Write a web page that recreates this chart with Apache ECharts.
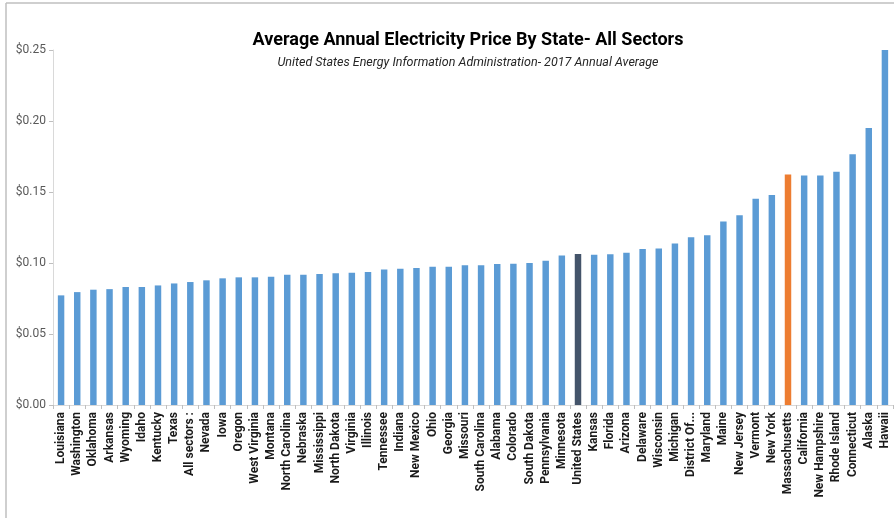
<!DOCTYPE html>
<html>
<head>
<meta charset="utf-8">
<script src="https://cdn.jsdelivr.net/npm/echarts@6/dist/echarts.min.js"></script>
<style>
  html, body { margin: 0; padding: 0; background: #ffffff; }
  #chart { width: 894px; height: 518px; }
</style>
</head>
<body>
<div id="chart"></div>
<script>
const categories = [
  "Louisiana", "Washington", "Oklahoma", "Arkansas", "Wyoming", "Idaho", "Kentucky", "Texas",
  "All sectors :", "Nevada", "Iowa", "Oregon", "West Virginia", "Montana", "North Carolina",
  "Nebraska", "Mississippi", "North Dakota", "Virginia", "Illinois", "Tennessee", "Indiana",
  "New Mexico", "Ohio", "Georgia", "Missouri", "South Carolina", "Alabama", "Colorado",
  "South Dakota", "Pennsylvania", "Minnesota", "United States", "Kansas", "Florida", "Arizona",
  "Delaware", "Wisconsin", "Michigan", "District Of...", "Maryland", "Maine", "New Jersey",
  "Vermont", "New York", "Massachusetts", "California", "New Hampshire", "Rhode Island",
  "Connecticut", "Alaska", "Hawaii"
];
const prices = [
  0.0772, 0.0795, 0.0812, 0.0816, 0.0831, 0.0831, 0.0842, 0.0856,
  0.0866, 0.0878, 0.0892, 0.0899, 0.0899, 0.0904, 0.0918,
  0.0918, 0.0922, 0.0927, 0.0932, 0.0936, 0.0955, 0.0960,
  0.0965, 0.0974, 0.0974, 0.0984, 0.0984, 0.0993, 0.0995,
  0.1000, 0.1016, 0.1052, 0.1063, 0.1058, 0.1062, 0.1072,
  0.1098, 0.1102, 0.1137, 0.1182, 0.1196, 0.1293, 0.1337,
  0.1452, 0.1478, 0.1624, 0.1617, 0.1617, 0.1643,
  0.1765, 0.1951, 0.2500
];
const yTicks = [0, 0.05, 0.10, 0.15, 0.20, 0.25];
const titleText = "Average Annual Electricity Price By State- All Sectors";
const subtitleText = "United States Energy Information Administration- 2017 Annual Average";

const baseColor = "#5B9BD5";
const highlight = { "United States": "#44546A", "Massachusetts": "#ED7D31" };

const chart = echarts.init(document.getElementById('chart'), null, { renderer: 'canvas' });
const font = "'Liberation Sans Narrow', 'Roboto', 'DejaVu Sans Condensed', sans-serif";

chart.setOption({
  animation: false,
  backgroundColor: '#ffffff',
  title: {
    text: titleText,
    subtext: subtitleText,
    left: 463,
    top: 26,
    textAlign: 'center',
    itemGap: 7,
    textStyle: { fontFamily: font, fontWeight: 'bold', fontSize: 18, color: '#000000' },
    subtextStyle: { fontFamily: font, fontStyle: 'italic', fontSize: 12.5, color: '#262626' }
  },
  graphic: [
    { type: 'line', shape: { x1: 6, y1: 3, x2: 894, y2: 3 }, style: { stroke: '#bfbfbf', lineWidth: 1.5 } },
    { type: 'line', shape: { x1: 6, y1: 3, x2: 6, y2: 518 }, style: { stroke: '#bfbfbf', lineWidth: 1.5 } }
  ],
  grid: { left: 53, right: 1, top: 50, bottom: 113, containLabel: false },
  xAxis: {
    type: 'category',
    data: categories,
    axisLine: { lineStyle: { color: '#d9d9d9' } },
    axisTick: { show: true, length: 4, lineStyle: { color: '#bfbfbf' } },
    axisLabel: {
      interval: 0, rotate: 90, margin: 7,
      fontFamily: font, fontWeight: 'bold', fontSize: 12, color: '#1a1a1a'
    }
  },
  yAxis: {
    type: 'value',
    min: yTicks[0],
    max: yTicks[yTicks.length - 1],
    interval: 0.05,
    splitLine: { show: false },
    axisLine: { show: true, lineStyle: { color: '#d9d9d9' } },
    axisTick: { show: true, length: 4, lineStyle: { color: '#bfbfbf' } },
    axisLabel: {
      margin: 7, fontFamily: font, fontSize: 12, color: '#595959',
      formatter: v => '$' + v.toFixed(2)
    }
  },
  series: [{
    type: 'bar',
    barWidth: '40%',
    data: prices.map((v, i) => ({
      value: v,
      itemStyle: { color: highlight[categories[i]] || baseColor }
    }))
  }]
});
</script>
</body>
</html>
